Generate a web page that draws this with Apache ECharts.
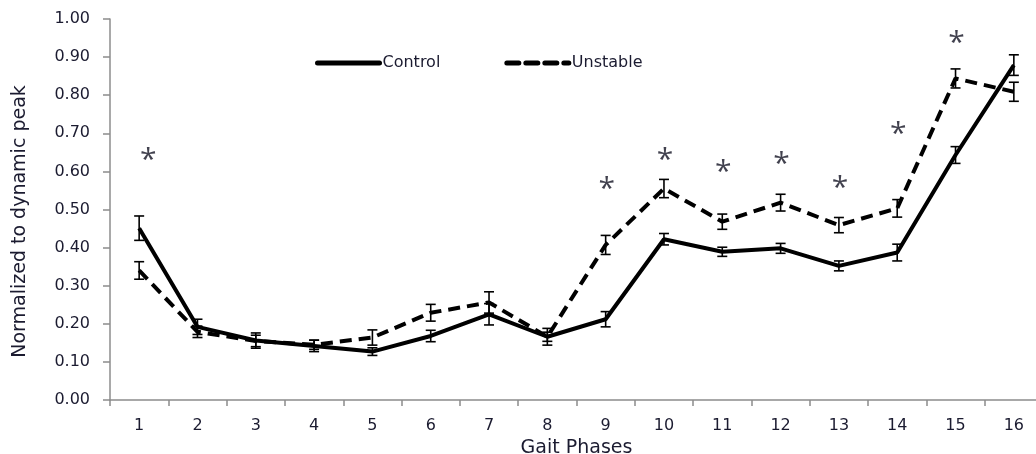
<!DOCTYPE html>
<html>
<head>
<meta charset="utf-8">
<script src="https://cdn.jsdelivr.net/npm/echarts@6/dist/echarts.min.js"></script>
<style>
  html, body { margin: 0; padding: 0; background: #fff; }
  #chart { width: 1036px; height: 454px; }
</style>
</head>
<body>
<div id="chart"></div>
<script>
// 步态相位
const phases = ['1','2','3','4','5','6','7','8','9','10','11','12','13','14','15','16'];

// 均值与误差
const controlMean = [0.451, 0.192, 0.156, 0.142, 0.127, 0.168, 0.225, 0.166, 0.212, 0.422, 0.389, 0.398, 0.352, 0.387, 0.643, 0.879];
const controlErr  = [0.032, 0.020, 0.020, 0.015, 0.010, 0.015, 0.028, 0.012, 0.020, 0.015, 0.012, 0.013, 0.013, 0.022, 0.022, 0.027];
const unstableMean = [0.340, 0.179, 0.155, 0.145, 0.164, 0.229, 0.256, 0.166, 0.407, 0.555, 0.468, 0.518, 0.459, 0.503, 0.844, 0.809];
const unstableErr  = [0.023, 0.015, 0.015, 0.012, 0.020, 0.022, 0.028, 0.022, 0.025, 0.024, 0.020, 0.022, 0.020, 0.023, 0.025, 0.025];

// 显著性星号
const starPhases = ['1', '9', '10', '11', '12', '13', '14', '15'];
const starValues = [0.651, 0.573, 0.649, 0.617, 0.639, 0.576, 0.717, 0.958];

const yTicks = [0, 0.1, 0.2, 0.3, 0.4, 0.5, 0.6, 0.7, 0.8, 0.9, 1.0];

const chartDom = document.getElementById('chart');
const myChart = echarts.init(chartDom);

const textColor = '#1b1b30';
const font = 'DejaVu Sans';

function errorSeries(name, mean, err) {
    return {
        name: name + ' err',
        type: 'custom',
        z: 5,
        data: mean.map((m, i) => [i, m - err[i], m + err[i]]),
        renderItem: function(params, api) {
            const lo = api.coord([api.value(0), api.value(1)]);
            const hi = api.coord([api.value(0), api.value(2)]);
            const w = 5;
            const style = { stroke: '#000', lineWidth: 1.6 };
            return {
                type: 'group',
                children: [
                    { type: 'line', shape: { x1: lo[0], y1: lo[1], x2: hi[0], y2: hi[1] }, style: style },
                    { type: 'line', shape: { x1: lo[0] - w, y1: lo[1], x2: lo[0] + w, y2: lo[1] }, style: style },
                    { type: 'line', shape: { x1: hi[0] - w, y1: hi[1], x2: hi[0] + w, y2: hi[1] }, style: style }
                ]
            };
        }
    };
}

// 星号数据（第一个稍微右移）
const starData = starPhases.map((p, i) => ({
    value: [p, starValues[i]],
    label: i === 0 ? { offset: [9, 8] } : undefined
}));

const option = {
    animation: false,
    backgroundColor: '#fff',
    grid: { left: 110, right: -7, top: 19, bottom: 54, containLabel: false, outerBoundsMode: 'none' },
    legend: {
        top: 50,
        left: 310,
        itemWidth: 62,
        itemHeight: 10,
        itemGap: 64,
        itemStyle: { opacity: 0 },
        lineStyle: { width: 5, cap: 'round' },
        textStyle: { color: textColor, fontFamily: font, fontSize: 16, padding: [0, 0, 0, -2] },
        data: ['Control', 'Unstable']
    },
    xAxis: {
        type: 'category',
        data: phases,
        boundaryGap: true,
        name: 'Gait Phases',
        nameLocation: 'middle',
        nameGap: 36,
        nameTextStyle: { color: textColor, fontFamily: font, fontSize: 19, verticalAlign: 'top' },
        axisLine: { lineStyle: { color: '#8c8c8c', width: 1.5 } },
        axisTick: { show: true, length: 6, inside: false, lineStyle: { color: '#8c8c8c', width: 1.5 } },
        axisLabel: { color: textColor, fontFamily: font, fontSize: 16, margin: 18 },
        splitLine: { show: false }
    },
    yAxis: {
        type: 'value',
        min: 0,
        max: 1,
        interval: 0.1,
        name: 'Normalized to dynamic peak',
        nameLocation: 'middle',
        nameRotate: 90,
        nameGap: 80,
        nameTextStyle: { color: textColor, fontFamily: font, fontSize: 19, padding: [0, 24, 0, 0] },
        axisLine: { show: true, lineStyle: { color: '#8c8c8c', width: 1.5 } },
        axisTick: { show: true, length: 7, lineStyle: { color: '#8c8c8c', width: 1.5 } },
        axisLabel: {
            color: textColor, fontFamily: font, fontSize: 16, margin: 20,
            customValues: yTicks,
            formatter: v => v.toFixed(2)
        },
        splitLine: { show: false }
    },
    series: [
        {
            name: 'Control',
            type: 'line',
            data: controlMean,
            symbol: 'none',
            lineStyle: { color: '#000', width: 4 },
            itemStyle: { color: '#000' },
            z: 3
        },
        {
            name: 'Unstable',
            type: 'line',
            data: unstableMean,
            symbol: 'none',
            lineStyle: { color: '#000', width: 4, type: [12, 7] },
            itemStyle: { color: '#000' },
            z: 3
        },
        errorSeries('Control', controlMean, controlErr),
        errorSeries('Unstable', unstableMean, unstableErr),
        {
            name: 'stars',
            type: 'scatter',
            data: starData,
            symbolSize: 1,
            itemStyle: { color: 'rgba(0,0,0,0)' },
            label: {
                show: true,
                position: 'inside',
                formatter: '*',
                color: '#111122',
                fontFamily: 'Open Sans',
                fontSize: 30,
                offset: [1, 8]
            },
            z: 6
        }
    ]
};

myChart.setOption(option);

window.addEventListener('resize', function() {
    myChart.resize();
});
</script>
</body>
</html>
